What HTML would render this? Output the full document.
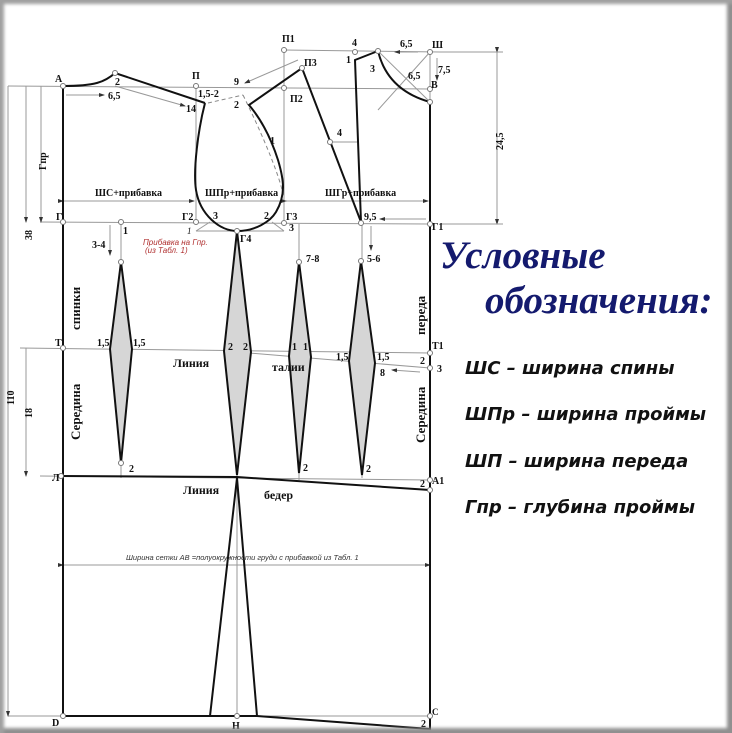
<!DOCTYPE html>
<html><head><meta charset="utf-8"><style>
html,body{margin:0;padding:0;background:#fff}
.wrap{position:relative;width:732px;height:733px;overflow:hidden;background:#fff}
.frame{position:absolute;inset:0;box-shadow:inset 5px 5px 3px -1px #a0a0a0, inset -6px -6px 3px -1px #909090;pointer-events:none}
svg text{font-family:"Liberation Serif",serif;font-weight:bold;font-size:10px;fill:#111}
.lg{font-family:"DejaVu Sans",sans-serif;font-style:italic;font-weight:bold;font-size:18px;fill:#111}
.tt{font-family:"Liberation Serif",serif;font-style:italic;font-weight:bold;font-size:39px;fill:#141a6e}
</style></head><body><div class="wrap">
<svg width="732" height="733" viewBox="0 0 732 733" xmlns="http://www.w3.org/2000/svg">
<defs><marker id="ar" markerWidth="6" markerHeight="6" refX="5" refY="3" orient="auto"><path d="M0,1 L6,3 L0,5z" fill="#333"/></marker></defs>
<g stroke="#999" stroke-width="1" fill="none">
<line x1="8" y1="86" x2="430" y2="89"/>
<line x1="284" y1="50" x2="440" y2="52"/>
<line x1="40" y1="222" x2="430" y2="224"/>
<line x1="20" y1="348" x2="430" y2="353"/>
<line x1="40" y1="476" x2="430" y2="480"/>
<line x1="8" y1="716" x2="430" y2="716"/>
<line x1="196" y1="86" x2="196" y2="222"/>
<line x1="284" y1="50" x2="284" y2="224"/>
<line x1="430" y1="52" x2="430" y2="102"/>
<line x1="430" y1="52" x2="378" y2="110"/>
<line x1="378" y1="51" x2="430" y2="102"/>
<line x1="121" y1="222" x2="121" y2="478"/>
<line x1="237" y1="231" x2="237" y2="716"/>
<line x1="299" y1="224" x2="299" y2="480"/>
<line x1="362" y1="224" x2="362" y2="478"/>
<line x1="237" y1="352" x2="430" y2="368"/>
<line x1="196" y1="231" x2="284" y2="231"/>
<line x1="196" y1="231" x2="210" y2="222"/>
<line x1="284" y1="231" x2="272" y2="222"/>
<line x1="8" y1="86" x2="8" y2="716" marker-end="url(#ar)"/>
<line x1="26" y1="86" x2="26" y2="222" marker-end="url(#ar)"/>
<line x1="41" y1="86" x2="41" y2="222" marker-end="url(#ar)"/>
<line x1="26" y1="348" x2="26" y2="476" marker-end="url(#ar)"/>
<line x1="497" y1="52" x2="497" y2="224" marker-end="url(#ar)" marker-start="url(#ar)"/>
<line x1="440" y1="52" x2="503" y2="52"/>
<line x1="440" y1="224" x2="503" y2="224"/>
<line x1="63" y1="201" x2="194" y2="201" marker-end="url(#ar)" marker-start="url(#ar)"/>
<line x1="198" y1="201" x2="282" y2="201"/>
<line x1="286" y1="201" x2="428" y2="201" marker-end="url(#ar)" marker-start="url(#ar)"/>
<line x1="63" y1="565" x2="430" y2="565" marker-end="url(#ar)" marker-start="url(#ar)"/>
<line x1="66" y1="95" x2="104" y2="95" marker-end="url(#ar)"/>
<line x1="115" y1="86" x2="185" y2="106" marker-end="url(#ar)"/>
<line x1="298" y1="60" x2="245" y2="83" marker-end="url(#ar)"/>
<line x1="426" y1="219" x2="380" y2="219" marker-end="url(#ar)"/>
<line x1="418" y1="52" x2="395" y2="52" marker-end="url(#ar)"/>
<line x1="437" y1="58" x2="437" y2="80" marker-end="url(#ar)"/>
<line x1="110" y1="225" x2="110" y2="255" marker-end="url(#ar)"/>
<line x1="371" y1="226" x2="371" y2="250" marker-end="url(#ar)"/>
<line x1="420" y1="372" x2="392" y2="370" marker-end="url(#ar)"/>
<line x1="330" y1="142" x2="357" y2="142"/>
</g>
<g stroke="#888" stroke-dasharray="4,3" fill="none"><path d="M208,103 L243,95"/><path d="M243,95 C270,150 282,185 283,195"/><path d="M300,70 L249,105"/></g>
<g fill="none" stroke="#111" stroke-width="2">
<path d="M63,86 L63,716 L210,716"/>
<path d="M63,86 C95,86 105,82 115,73 L205,103"/>
<path d="M205,103 C198,130 193,170 196,190 C200,215 220,231 237,231 C255,231 270,222 276,212 C286,195 284,180 278,160 C270,135 260,118 249,105 L302,68 L361,222 L355,60 L378,51"/>
<path d="M378,51 C385,80 405,95 430,102 L430,729 L257,716"/>
<path d="M61,476 L237,477 L430,490"/>
<path d="M121,262 L110,349 L121,463 L132,349 Z" fill="#d6d6d6"/>
<path d="M237,231 L224,351 L237,475 L251,352 Z" fill="#d6d6d6"/>
<path d="M299,262 L289,356 L299,473 L311,357 Z" fill="#d6d6d6"/>
<path d="M361,261 L349,361 L362,475 L375,363 Z" fill="#d6d6d6"/>
<path d="M237,478 L210,716 L257,716 Z"/>
</g>
<g fill="#fff" stroke="#777" stroke-width="1">
<circle cx="63" cy="86" r="2.5"/><circle cx="115" cy="73" r="2.5"/><circle cx="196" cy="86" r="2.5"/><circle cx="284" cy="50" r="2.5"/><circle cx="284" cy="88" r="2.5"/><circle cx="302" cy="68" r="2.5"/><circle cx="355" cy="52" r="2.5"/><circle cx="378" cy="51" r="2.5"/><circle cx="430" cy="52" r="2.5"/><circle cx="430" cy="89" r="2.5"/><circle cx="430" cy="102" r="2.5"/><circle cx="63" cy="222" r="2.5"/><circle cx="121" cy="222" r="2.5"/><circle cx="196" cy="222" r="2.5"/><circle cx="284" cy="223" r="2.5"/><circle cx="361" cy="223" r="2.5"/><circle cx="430" cy="224" r="2.5"/><circle cx="237" cy="231" r="2.5"/><circle cx="121" cy="262" r="2.5"/><circle cx="299" cy="262" r="2.5"/><circle cx="361" cy="261" r="2.5"/><circle cx="63" cy="348" r="2.5"/><circle cx="430" cy="353" r="2.5"/><circle cx="430" cy="368" r="2.5"/><circle cx="121" cy="463" r="2.5"/><circle cx="61" cy="476" r="2.5"/><circle cx="430" cy="480" r="2.5"/><circle cx="430" cy="490" r="2.5"/><circle cx="63" cy="716" r="2.5"/><circle cx="430" cy="716" r="2.5"/><circle cx="237" cy="716" r="2.5"/><circle cx="330" cy="142" r="2.5"/>
</g>
<text x="55" y="82">А</text><text x="115" y="85">2</text><text x="108" y="99">6,5</text><text x="192" y="79">П</text><text x="198" y="97">1,5-2</text><text x="186" y="112">14</text>
<text x="234" y="85">9</text><text x="234" y="108">2</text><text x="282" y="42">П1</text><text x="304" y="66">П3</text><text x="290" y="102">П2</text>
<text x="352" y="46">4</text><text x="346" y="63">1</text><text x="370" y="72">3</text><text x="400" y="47">6,5</text><text x="432" y="48">Ш</text><text x="408" y="79">6,5</text><text x="438" y="73">7,5</text><text x="431" y="88">В</text>
<text x="337" y="136">4</text><text x="270" y="144">1</text>
<text x="95" y="196">ШС+прибавка</text><text x="205" y="196">ШПр+прибавка</text><text x="325" y="196">ШГр+прибавка</text>
<text x="56" y="220">Г</text><text x="182" y="220">Г2</text><text x="213" y="219">3</text><text x="264" y="219">2</text><text x="286" y="220">Г3</text><text x="289" y="231">3</text><text x="364" y="220">9,5</text><text x="432" y="230">Г1</text><text x="240" y="242">Г4</text>
<text x="123" y="234">1</text><text x="187" y="234" style="font-style:italic;font-weight:normal;font-size:9px">1</text>
<text x="143" y="245" style="font-family:'Liberation Sans',sans-serif;font-style:italic;font-weight:normal;font-size:8px;fill:#b03030">Прибавка на Гпр.</text>
<text x="145" y="253" style="font-family:'Liberation Sans',sans-serif;font-style:italic;font-weight:normal;font-size:8px;fill:#b03030">(из Табл. 1)</text>
<text x="92" y="248">3-4</text><text x="306" y="262">7-8</text><text x="367" y="262">5-6</text>
<text x="55" y="346">Т</text><text x="97" y="346">1,5</text><text x="133" y="346">1,5</text><text x="228" y="350">2</text><text x="243" y="350">2</text><text x="292" y="350">1</text><text x="303" y="350">1</text><text x="336" y="360">1,5</text><text x="377" y="360">1,5</text><text x="432" y="349">Т1</text><text x="420" y="364">2</text><text x="437" y="372">3</text><text x="380" y="376">8</text>
<text x="173" y="367" style="font-size:12px">Линия</text><text x="272" y="371" style="font-size:12px">талии</text>
<text x="129" y="472">2</text><text x="303" y="471">2</text><text x="366" y="472">2</text><text x="52" y="481">Л</text><text x="420" y="487">2</text><text x="432" y="484">А1</text>
<text x="183" y="494" style="font-size:12px">Линия</text><text x="264" y="499" style="font-size:12px">бедер</text>
<text x="126" y="560" style="font-family:'Liberation Sans',sans-serif;font-style:italic;font-weight:normal;font-size:7.5px;fill:#333">Ширина сетки АВ =полуокружности груди с прибавкой из Табл. 1</text>
<text x="52" y="726">D</text><text x="232" y="729">Н</text><text x="432" y="715" style="font-size:9px">С</text><text x="421" y="727">2</text>
<text transform="translate(14,405) rotate(-90)">110</text><text transform="translate(32,240) rotate(-90)">38</text><text transform="translate(32,418) rotate(-90)">18</text><text transform="translate(46,170) rotate(-90)">Гпр</text><text transform="translate(503,150) rotate(-90)">24,5</text>
<text transform="translate(80,330) rotate(-90)" style="font-size:13px">спинки</text><text transform="translate(80,440) rotate(-90)" style="font-size:13px">Середина</text>
<text transform="translate(425,335) rotate(-90)" style="font-size:13px">переда</text><text transform="translate(425,443) rotate(-90)" style="font-size:13px">Середина</text>
<text class="tt" x="440" y="268">Условные</text><text class="tt" x="485" y="313">обозначения:</text>
<text class="lg" x="465" y="374">ШС – ширина спины</text><text class="lg" x="465" y="420">ШПр – ширина проймы</text><text class="lg" x="465" y="467">ШП – ширина переда</text><text class="lg" x="465" y="513">Гпр – глубина проймы</text>
</svg>
<div class="frame"></div></div></body></html>
